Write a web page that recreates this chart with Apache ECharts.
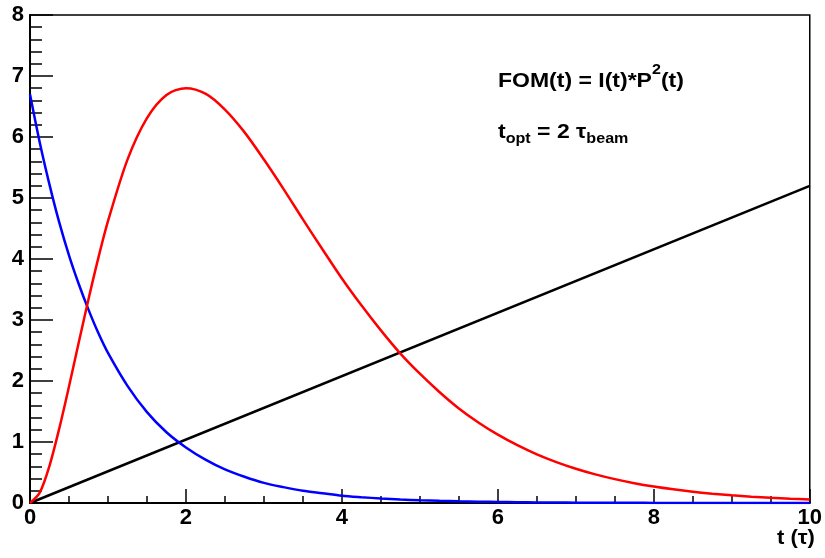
<!DOCTYPE html>
<html>
<head>
<meta charset="utf-8">
<script src="https://cdn.jsdelivr.net/npm/echarts@6/dist/echarts.min.js"></script>
<style>
  html, body { margin: 0; padding: 0; background: #fff; }
  #chart { width: 825px; height: 558px; }
</style>
</head>
<body>
<div id="chart"></div>
<script>
// sample times (in units of tau)
const tValues = [0, 0.125, 0.25, 0.375, 0.5, 0.625, 0.75, 0.875, 1, 1.25, 1.5, 1.75, 2, 2.25, 2.5, 2.75,
  3, 3.25, 3.5, 3.75, 4, 4.25, 4.5, 4.75, 5, 5.25, 5.5, 5.75, 6, 6.25, 6.5, 6.75,
  7, 7.25, 7.5, 7.75, 8, 8.25, 8.5, 8.75, 9, 9.25, 9.5, 9.75, 10]

// FOM(t) = I(t)*P^2(t)  (red)
const fomValues = [0, 0.17, 0.61, 1.22, 1.91, 2.63, 3.34, 4.01, 4.62, 5.63, 6.31, 6.69, 6.80, 6.71, 6.45, 6.08,
  5.63, 5.15, 4.65, 4.16, 3.68, 3.24, 2.83, 2.45, 2.12, 1.82, 1.55, 1.32, 1.12, 0.948, 0.798, 0.671,
  0.562, 0.469, 0.391, 0.325, 0.270, 0.224, 0.185, 0.153, 0.126, 0.103, 0.085, 0.070, 0.057]

// intensity (blue)
const intensityValues = [6.70, 5.91, 5.22, 4.60, 4.06, 3.59, 3.17, 2.79, 2.46, 1.92, 1.49, 1.16, 0.91, 0.71, 0.55, 0.43,
  0.33, 0.26, 0.20, 0.16, 0.12, 0.095, 0.074, 0.058, 0.045, 0.035, 0.027, 0.021, 0.017, 0.013, 0.010, 0.008,
  0.006, 0.005, 0.004, 0.003, 0.002, 0.002, 0.001, 0.001, 0.001, 0.001, 0, 0, 0]

// linear (black)
const lineT = [0, 10]
const lineValues = [0, 5.2]

const xTicks = { min: 0, max: 10, interval: 2 }
const yTicks = { min: 0, max: 8, interval: 1 }

const font = 'Liberation Sans, Arial, Helvetica, sans-serif'

function pairs(xs, ys) {
  return xs.map((x, i) => [x, ys[i]])
}

const chart = echarts.init(document.getElementById('chart'))

chart.setOption({
  animation: false,
  grid: {
    left: 30, right: 10, top: 15, bottom: 55,
    show: true, borderColor: '#000', borderWidth: 1.5, backgroundColor: 'transparent'
  },
  xAxis: {
    type: 'value',
    min: xTicks.min, max: xTicks.max, interval: xTicks.interval,
    axisLine: { show: true, onZero: false, lineStyle: { color: '#000', width: 2 } },
    axisTick: { show: true, inside: true, length: 14, lineStyle: { color: '#000', width: 1.5 } },
    minorTick: { show: true, splitNumber: 4, length: 7, lineStyle: { color: '#000', width: 1.5 } },
    splitLine: { show: false },
    axisLabel: { color: '#000', fontFamily: font, fontWeight: 'bold', fontSize: 22, margin: 4 }
  },
  yAxis: {
    type: 'value',
    min: yTicks.min, max: yTicks.max, interval: yTicks.interval,
    axisLine: { show: true, lineStyle: { color: '#000', width: 2 } },
    axisTick: { show: true, inside: true, length: 23, lineStyle: { color: '#000', width: 1.5 } },
    minorTick: { show: true, splitNumber: 5, length: 12, lineStyle: { color: '#000', width: 1.5 } },
    splitLine: { show: false },
    axisLabel: { color: '#000', fontFamily: font, fontWeight: 'bold', fontSize: 22, margin: 6 }
  },
  series: [
    {
      name: 'line', type: 'line', data: pairs(lineT, lineValues),
      showSymbol: false, lineStyle: { color: '#000', width: 2.5 }
    },
    {
      name: 'intensity', type: 'line', data: pairs(tValues, intensityValues),
      showSymbol: false, smooth: 0.3, lineStyle: { color: '#0000ff', width: 2.5 }
    },
    {
      name: 'FOM', type: 'line', data: pairs(tValues, fomValues),
      showSymbol: false, smooth: 0.3, lineStyle: { color: '#ff0000', width: 2.5 }
    }
  ],
  graphic: [
    {
      type: 'text', left: 498, top: 63, scaleX: 1.15,
      style: {
        text: '{b|FOM(t) = I(t)*P}{sup|2}{b|(t)}',
        rich: {
          b: { fontFamily: font, fontWeight: 'bold', fontSize: 20, fill: '#000', lineHeight: 28, verticalAlign: 'bottom' },
          sup: { fontFamily: font, fontWeight: 'bold', fontSize: 14, fill: '#000', lineHeight: 18, verticalAlign: 'top' }
        }
      }
    },
    {
      type: 'text', left: 498, top: 122, scaleX: 1.15,
      style: {
        text: '{b|t}{sub|opt}{b| = 2 τ}{sub|beam}',
        rich: {
          b: { fontFamily: font, fontWeight: 'bold', fontSize: 20, fill: '#000', lineHeight: 24, verticalAlign: 'top' },
          sub: { fontFamily: font, fontWeight: 'bold', fontSize: 14, fill: '#000', lineHeight: 16, verticalAlign: 'bottom' }
        }
      }
    },
    {
      type: 'text', left: 777, top: 528, scaleX: 1.1,
      style: { text: 't (τ)', fontFamily: font, fontWeight: 'bold', fontSize: 20, fill: '#000' }
    }
  ]
})
</script>
</body>
</html>
